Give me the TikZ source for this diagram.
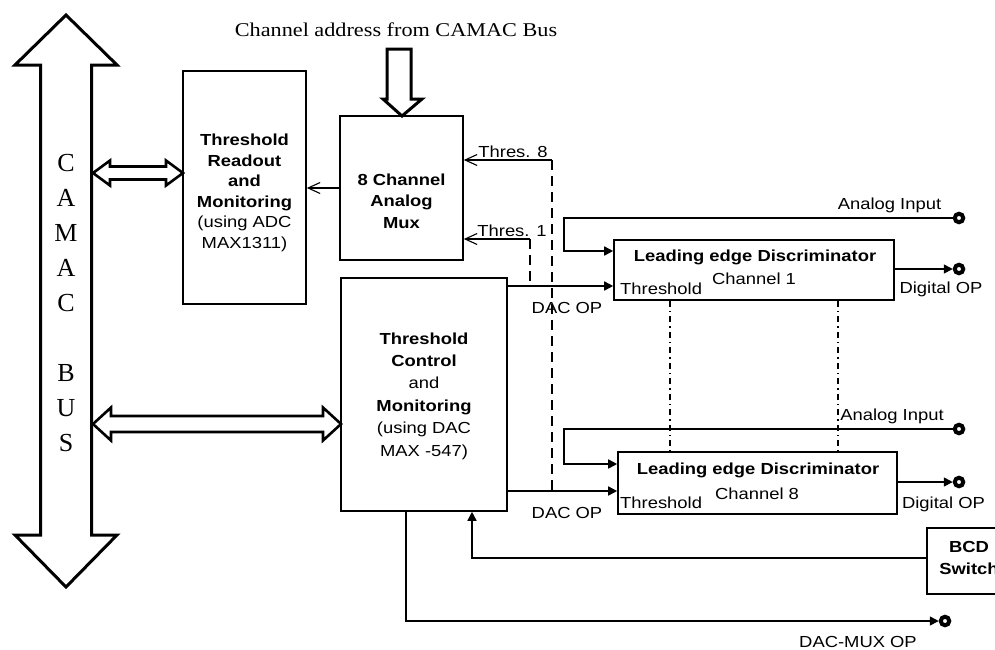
\documentclass[tikz,border=0pt]{standalone}
\usepackage{fontspec}
\setmainfont{Liberation Sans}[FakeStretch=1.15]
\newfontfamily\serifwide{Liberation Serif}[FakeStretch=1.14]
\newfontfamily\serifbus{Liberation Serif}
\usetikzlibrary{arrows.meta,calc}
\begin{document}
\begin{tikzpicture}[x=1pt,y=-1pt,
  blk/.style={draw,line width=1.6pt,inner sep=0pt},
  txt/.style={font=\fontsize{16}{21}\selectfont,align=center,inner sep=0pt},
  conn/.style={line width=1.6pt},
  farrow/.style={conn,-{Triangle[length=9pt,width=9pt]}},
  oarrow/.style={line width=1.1pt,-{Straight Barb[length=12pt,width=11pt,line width=1.1pt]}},
  dsh/.style={line width=1.4pt,dash pattern=on 10pt off 6pt},
  dd/.style={line width=1.2pt,dash pattern=on 6pt off 4pt on 1.5pt off 4pt},
  term/.style={circle,draw,line width=4pt,fill=white,minimum size=8.5pt,inner sep=0pt},
  fat/.style={draw,line width=3pt,line join=miter,fill=white},
  fatthin/.style={draw,line width=2.6pt,line join=miter,fill=white}]
\useasboundingbox (0,0) rectangle (995,649);
\clip (0,0) rectangle (995,649);

% CAMAC bus block arrow
\draw[fat] (66,15) -- (117,65) -- (91.5,65) -- (91.5,535) -- (117,535) -- (66,587)
  -- (15,535) -- (40.5,535) -- (40.5,65) -- (15,65) -- cycle;
\node[font=\serifbus\fontsize{26}{35}\selectfont,align=center,inner sep=0pt] (busT) at (66,303)
  {C\\A\\M\\A\\C\\[35pt]B\\U\\S};

% boxes
\node[blk,minimum width=123pt,minimum height=233pt] (rd) at (244.5,187.5) {};
\node[blk,minimum width=123pt,minimum height=144pt] (mux) at (401.5,188) {};
\node[blk,minimum width=166pt,minimum height=233pt] (ctl) at (424,394.5) {};
\node[blk,minimum width=280pt,minimum height=60pt] (led1) at (754,270) {};
\node[blk,minimum width=279pt,minimum height=62pt] (led8) at (757.5,483) {};
\node[blk,minimum width=84pt,minimum height=66pt] (bcd) at (969,561) {};

% box texts
\node[txt,font=\fontsize{16}{20.5}\selectfont] (rdT) at (244.5,193)
  {\textbf{Threshold}\\\textbf{Readout}\\\textbf{and}\\\textbf{Monitoring}\\(using ADC\\MAX1311)};
\node[txt,font=\fontsize{16}{21.5}\selectfont] (muxT) at (401.5,201)
  {\textbf{8 Channel}\\\textbf{Analog}\\\textbf{Mux}};
\node[txt,font=\fontsize{16}{22.4}\selectfont] (ctlT) at (424,396)
  {\textbf{Threshold}\\\textbf{Control}\\and\\\textbf{Monitoring}\\(using DAC\\MAX -547)};
\node[txt,font=\bfseries\fontsize{16}{21}\selectfont] (l1T) at (755,257) {Leading edge Discriminator};
\node[txt] (l1C) at (754,279) {Channel 1};
\node[txt,anchor=west] (l1Th) at (620,289) {Threshold};
\node[txt,font=\bfseries\fontsize{16}{21}\selectfont] (l8T) at (758,470) {Leading edge Discriminator};
\node[txt] (l8C) at (757,494) {Channel 8};
\node[txt,anchor=west] (l8Th) at (620,503) {Threshold};
\node[txt,font=\bfseries\fontsize{16}{21.5}\selectfont] (bcdT) at (969,558) {BCD\\Switch};

% block arrows
\draw[fatthin] (93,173) -- (110,160.5) -- (110,166.5) -- (166,166.5) -- (166,160.5) -- (183,173)
  -- (166,185.5) -- (166,179.5) -- (110,179.5) -- (110,185.5) -- cycle;
\draw[fatthin] (93,424) -- (111,407.5) -- (111,416) -- (323,416) -- (323,407.5) -- (341,424)
  -- (323,440.5) -- (323,432) -- (111,432) -- (111,440.5) -- cycle;
\draw[fat] (387,49) -- (411,49) -- (411,99) -- (422,99) -- (402,116) -- (383,99) -- (387,99) -- cycle;
\node[font=\serifwide\fontsize{19.5}{22}\selectfont,inner sep=0pt] (addr) at (396,30) {Channel address from CAMAC Bus};

% mux -> readout
\draw[oarrow] (mux.west) -- (mux.west -| rd.east);

% threshold sense lines
\coordinate (t8) at (552,160);
\coordinate (t1) at (530,239);
\coordinate (t8e) at (552,496);
\draw[oarrow] (t8) -- (t8 -| mux.east);
\draw[oarrow] (t1) -- (t1 -| mux.east);
\node[txt,anchor=south] (t8T) at (513,158) {Thres. 8};
\node[txt,anchor=south] (t1T) at (512,237) {Thres. 1};

% DAC outputs
\coordinate (th1) at (0,286);
\coordinate (th8) at (0,491);
\draw[farrow] (ctl.east |- th1) -- (led1.west |- th1);
\draw[farrow] (ctl.east |- th8) -- (led8.west |- th8);
\draw[dsh] (t8) -- (t8e);
\draw[dsh] (t1) -- (t1 |- th1);
\node[txt] (dac1) at (567,308) {DAC OP};
\node[txt] (dac8) at (567,513) {DAC OP};

% analog inputs
\node[term] (ai1) at (959,218) {};
\node[term] (ai8) at (959,429) {};
\coordinate (b1) at (564,218);
\coordinate (b8) at (564,429);
\coordinate (in1) at (0,251);
\coordinate (in8) at (0,464);
\draw[farrow] (ai1.west) -- (b1) -- (b1 |- in1) -- (led1.west |- in1);
\draw[farrow] (ai8.west) -- (b8) -- (b8 |- in8) -- (led8.west |- in8);
\node[txt] (ai1T) at (889.5,205) {Analog Input};
\node[txt] (ai8T) at (892,416) {Analog Input};

% digital outputs
\node[term] (do1) at (959,269) {};
\node[term] (do8) at (959,482) {};
\draw[farrow] (led1.east |- do1) -- (do1.west);
\draw[farrow] (led8.east |- do8) -- (do8.west);
\node[txt] (do1T) at (941,289) {Digital OP};
\node[txt] (do8T) at (943.5,504) {Digital OP};

% dash-dot continuation between channels
\draw[dd] (led1.south -| 670,0) -- (led8.north -| 670,0);
\draw[dd] (led1.south -| 838,0) -- (led8.north -| 838,0);

% BCD feedback
\coordinate (fb) at (472,558);
\draw[farrow] (bcd.west |- fb) -- (fb) -- (fb |- ctl.south);

% DAC-MUX output
\node[term] (dm) at (945,621) {};
\coordinate (dmc) at (406,621);
\draw[farrow] (dmc |- ctl.south) -- (dmc) -- (dm.west);
\node[txt] (dmT) at (858,642) {DAC-MUX OP};
\end{tikzpicture}
\end{document}
